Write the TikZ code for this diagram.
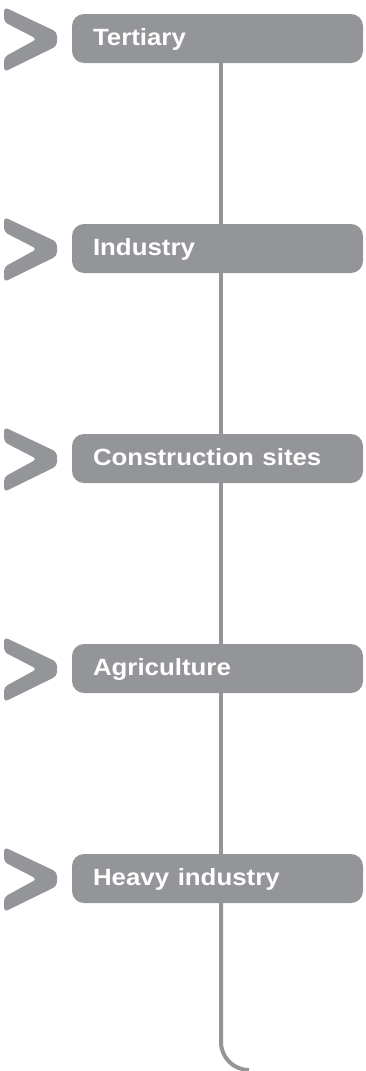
\documentclass[tikz,border=0pt]{standalone}
\usepackage{fontspec}
\setmainfont{Liberation Sans}
\definecolor{sectorgray}{HTML}{939598}
\newcommand{\widelabel}[1]{\scalebox{1.1}[1]{#1}}
\tikzset{
sectorbox/.style={fill=sectorgray, rounded corners=12pt, minimum height=49pt,
  text width=249pt, inner xsep=21pt, inner ysep=0pt, text height=16pt,
  text depth=3pt, align=left, text=white, font=\bfseries\fontsize{23.5}{28}\selectfont},
chevron/.style={fill=sectorgray, rounded corners=4pt},
stem/.style={draw=sectorgray, line width=4pt}
}
\begin{document}
\begin{tikzpicture}[x=1pt,y=1pt]
\useasboundingbox (0,0) rectangle (365,-1071);

%Tertiary
\fill[chevron] (4,-7) -- (57,-32) -- (57,-46) -- (4,-72) -- (4,-57) -- (37,-39) -- (4,-22) -- cycle;
\node[sectorbox] (tertiary) at (217.5,-38.5){\widelabel{Tertiary}};

%Industry
\fill[chevron,yshift=-210pt] (4,-7) -- (57,-32) -- (57,-46) -- (4,-72) -- (4,-57) -- (37,-39) -- (4,-22) -- cycle;
\node[sectorbox] (industry) at (217.5,-248.5){\widelabel{Industry}};

%Construction sites
\fill[chevron,yshift=-420pt] (4,-7) -- (57,-32) -- (57,-46) -- (4,-72) -- (4,-57) -- (37,-39) -- (4,-22) -- cycle;
\node[sectorbox] (construction) at (217.5,-458.5){\widelabel{Construction sites}};

%Agriculture
\fill[chevron,yshift=-630pt] (4,-7) -- (57,-32) -- (57,-46) -- (4,-72) -- (4,-57) -- (37,-39) -- (4,-22) -- cycle;
\node[sectorbox] (agriculture) at (217.5,-668.5){\widelabel{Agriculture}};

%Heavy industry
\fill[chevron,yshift=-840pt] (4,-7) -- (57,-32) -- (57,-46) -- (4,-72) -- (4,-57) -- (37,-39) -- (4,-22) -- cycle;
\node[sectorbox] (heavy) at (217.5,-878.5){\widelabel{Heavy industry}};

%Stem
\coordinate (turn) at (221,-1042);
\draw[stem] ([xshift=3.5pt]tertiary.south) -- ([xshift=3.5pt]industry.north);
\draw[stem] ([xshift=3.5pt]industry.south) -- ([xshift=3.5pt]construction.north);
\draw[stem] ([xshift=3.5pt]construction.south) -- ([xshift=3.5pt]agriculture.north);
\draw[stem] ([xshift=3.5pt]agriculture.south) -- ([xshift=3.5pt]heavy.north);
\draw[stem] ([xshift=3.5pt]heavy.south) -- (turn) arc[start angle=180, end angle=270, radius=28];

\end{tikzpicture}
\end{document}
